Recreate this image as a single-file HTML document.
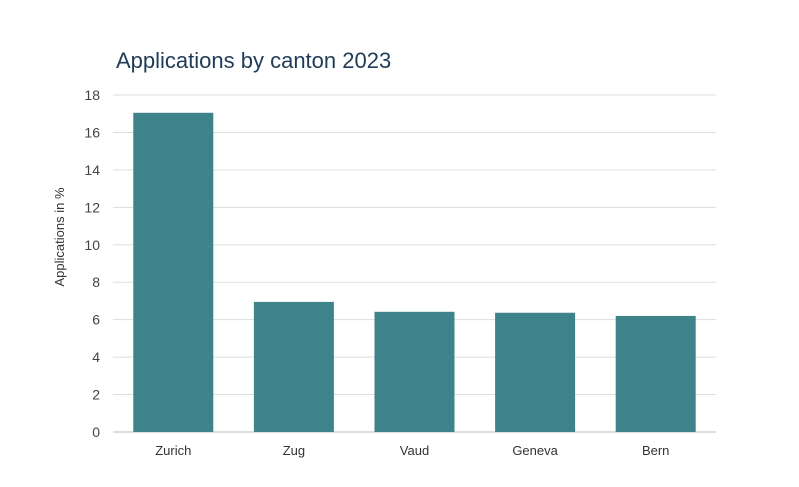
<!DOCTYPE html>
<html><head><meta charset="utf-8"><style>
body{margin:0;background:#fff;font-family:"Liberation Sans",sans-serif}
</style></head><body>
<svg id="chart" width="799" height="482" xmlns="http://www.w3.org/2000/svg">
<text x="116" y="68" font-size="22" fill="#1f3b57">Applications by canton 2023</text>
<text transform="translate(64,237) rotate(-90)" text-anchor="middle" font-size="13" fill="#333">Applications in %</text>
<g id="grid"></g><g id="bars"></g><g id="xlabels"></g>
</svg>
<script>
const categories=["Zurich","Zug","Vaud","Geneva","Bern"];
const values=[17.05,6.95,6.42,6.37,6.2];
const yTicks=[0,2,4,6,8,10,12,14,16,18];
const ns="http://www.w3.org/2000/svg";
const x0=113,x1=716,yBase=432,yTop=95,yMax=18;
const y=v=>yBase-(yBase-yTop)*v/yMax;
const band=(x1-x0)/categories.length;
const bw=80;
const grid=document.getElementById('grid');
yTicks.forEach(t=>{
 const l=document.createElementNS(ns,'line');
 l.setAttribute('x1',x0);l.setAttribute('x2',x1);l.setAttribute('y1',y(t));l.setAttribute('y2',y(t));
 l.setAttribute('stroke',t===0?'#bbb':'#ddd');l.setAttribute('stroke-width','1');
 
 
 grid.appendChild(l);
 const tx=document.createElementNS(ns,'text');
 tx.setAttribute('x',100);tx.setAttribute('y',y(t)+5);tx.setAttribute('text-anchor','end');
 tx.setAttribute('font-size','14');tx.setAttribute('fill','#444');tx.textContent=t;
 
 
 grid.appendChild(tx);
});
const bars=document.getElementById('bars'),xl=document.getElementById('xlabels');
categories.forEach((c,i)=>{
 const cx=x0+band*(i+0.5);
 const r=document.createElementNS(ns,'rect');
 r.setAttribute('x',cx-bw/2);r.setAttribute('width',bw);
 r.setAttribute('y',y(values[i]));r.setAttribute('height',yBase-y(values[i]));
 r.setAttribute('fill','#3f838a');
 
 
 bars.appendChild(r);
 const t=document.createElementNS(ns,'text');
 t.setAttribute('x',cx);t.setAttribute('y',455);t.setAttribute('text-anchor','middle');
 t.setAttribute('font-size','13');t.setAttribute('fill','#333');t.textContent=c;
 
 
 xl.appendChild(t);
});
</script>
</body></html>
